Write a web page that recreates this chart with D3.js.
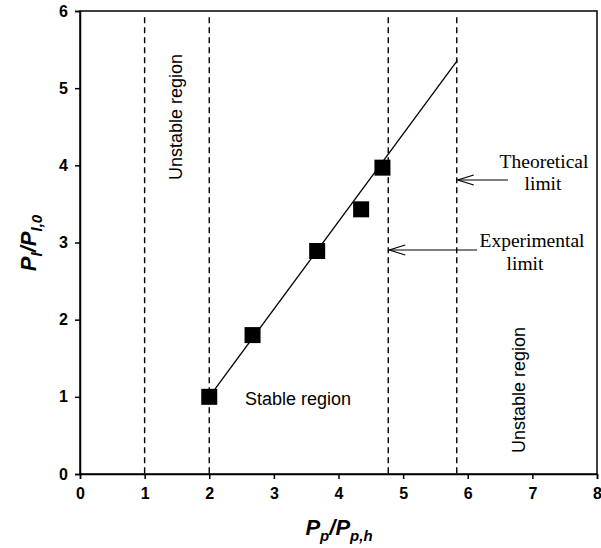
<!DOCTYPE html>
<html><head><meta charset="utf-8">
<script src="https://cdn.jsdelivr.net/npm/d3@7"></script>
<style>body{margin:0;background:#fff}svg{display:block}</style>
</head><body>
<script>
const xData = [2.0, 2.67, 3.67, 4.35, 4.68];
const yData = [1.0, 1.8, 2.89, 3.43, 3.97];
const fitX = [2.0, 5.84];
const fitY = [1.0, 5.36];
const limitX = [1, 2, 4.77, 5.83];
const xTicks = [0,1,2,3,4,5,6,7,8];
const yTicks = [0,1,2,3,4,5,6];

const W=601,H=548;
const svg=d3.select("body").append("svg").attr("width",W).attr("height",H);
const x=d3.scaleLinear().domain([0,8]).range([80,597]);
const y=d3.scaleLinear().domain([0,6]).range([474,11]);

// frame
svg.append("rect").attr("x",x(0)).attr("y",y(6)).attr("width",x(8)-x(0)).attr("height",y(0)-y(6))
  .attr("fill","none").attr("stroke","#000").attr("stroke-width",1.5);

const xa=svg.append("g").attr("transform",`translate(0,${y(0)})`)
  .call(d3.axisBottom(x).tickValues(xTicks).tickSize(5).tickPadding(9).tickFormat(d3.format("d")));
const ya=svg.append("g").attr("transform",`translate(${x(0)},0)`)
  .call(d3.axisLeft(y).tickValues(yTicks).tickSize(5).tickPadding(7).tickFormat(d3.format("d")));
[xa,ya].forEach(a=>{
  a.select(".domain").attr("stroke-width",1.5);
  a.selectAll("line").attr("stroke-width",1.5);
  a.selectAll("text").attr("font-family","Liberation Sans, Arial, sans-serif").attr("font-size",16).attr("font-weight","bold").attr("fill","#000");
});

// dashed limits
svg.selectAll(".lim").data(limitX).enter().append("line")
  .attr("x1",d=>x(d)).attr("x2",d=>x(d)).attr("y1",y(5.92)).attr("y2",y(0))
  .attr("stroke","#000").attr("stroke-width",1.4).attr("stroke-dasharray","6,4");

// fit line
svg.append("path").datum(fitX.map((d,i)=>[d,fitY[i]]))
  .attr("d",d3.line().x(d=>x(d[0])).y(d=>y(d[1])))
  .attr("stroke","#000").attr("stroke-width",1.3).attr("fill","none");

// squares
const s=16;
svg.selectAll(".pt").data(xData.map((d,i)=>[d,yData[i]])).enter().append("rect")
  .attr("x",d=>x(d[0])-s/2).attr("y",d=>y(d[1])-s/2).attr("width",s).attr("height",s).attr("fill","#000");

const sans="Liberation Sans, Arial, sans-serif", serif="Liberation Serif, Times New Roman, serif";
svg.append("text").attr("transform","translate(182,117) rotate(-90)").attr("text-anchor","middle")
  .attr("font-family",sans).attr("font-size",18).text("Unstable region");
svg.append("text").attr("transform","translate(525,390) rotate(-90)").attr("text-anchor","middle")
  .attr("font-family",sans).attr("font-size",18).text("Unstable region");
svg.append("text").attr("x",298).attr("y",405).attr("text-anchor","middle")
  .attr("font-family",sans).attr("font-size",18).text("Stable region");

const ann=[["Theoretical",544,168],["limit",543,190],["Experimental",532,247],["limit",525,270]];
svg.selectAll(".ann").data(ann).enter().append("text").attr("x",d=>d[1]).attr("y",d=>d[2])
  .attr("text-anchor","middle").attr("font-family",serif).attr("font-size",19.5).text(d=>d[0]);

// arrows
function arrow(x1,x2,yy){
  svg.append("line").attr("x1",x1).attr("x2",x2).attr("y1",yy).attr("y2",yy).attr("stroke","#000").attr("stroke-width",1.2);
  svg.append("path").attr("d",`M${x1+16},${yy-5} L${x1},${yy} L${x1+16},${yy+5}`).attr("fill","none").attr("stroke","#000").attr("stroke-width",1.2);
}
arrow(x(5.83)+1,508,180);
arrow(x(4.77)+1,477,250);

// axis titles
const bx=svg.append("text").attr("x",339).attr("y",535).attr("text-anchor","middle")
  .attr("font-family",sans).attr("font-weight","bold").attr("font-style","italic").attr("font-size",22);
bx.append("tspan").text("P");
bx.append("tspan").attr("font-size",15).attr("dy",6).text("p");
bx.append("tspan").attr("dy",-6).text("/P");
bx.append("tspan").attr("font-size",15).attr("dy",6).text("p,h");

const by=svg.append("text").attr("transform","translate(36,243) rotate(-90)").attr("text-anchor","middle")
  .attr("font-family",sans).attr("font-weight","bold").attr("font-style","italic").attr("font-size",22);
by.append("tspan").text("P");
by.append("tspan").attr("font-size",15).attr("dy",6).text("l");
by.append("tspan").attr("dy",-6).text("/P");
by.append("tspan").attr("font-size",15).attr("dy",6).text("l,0");
</script>
</body></html>
